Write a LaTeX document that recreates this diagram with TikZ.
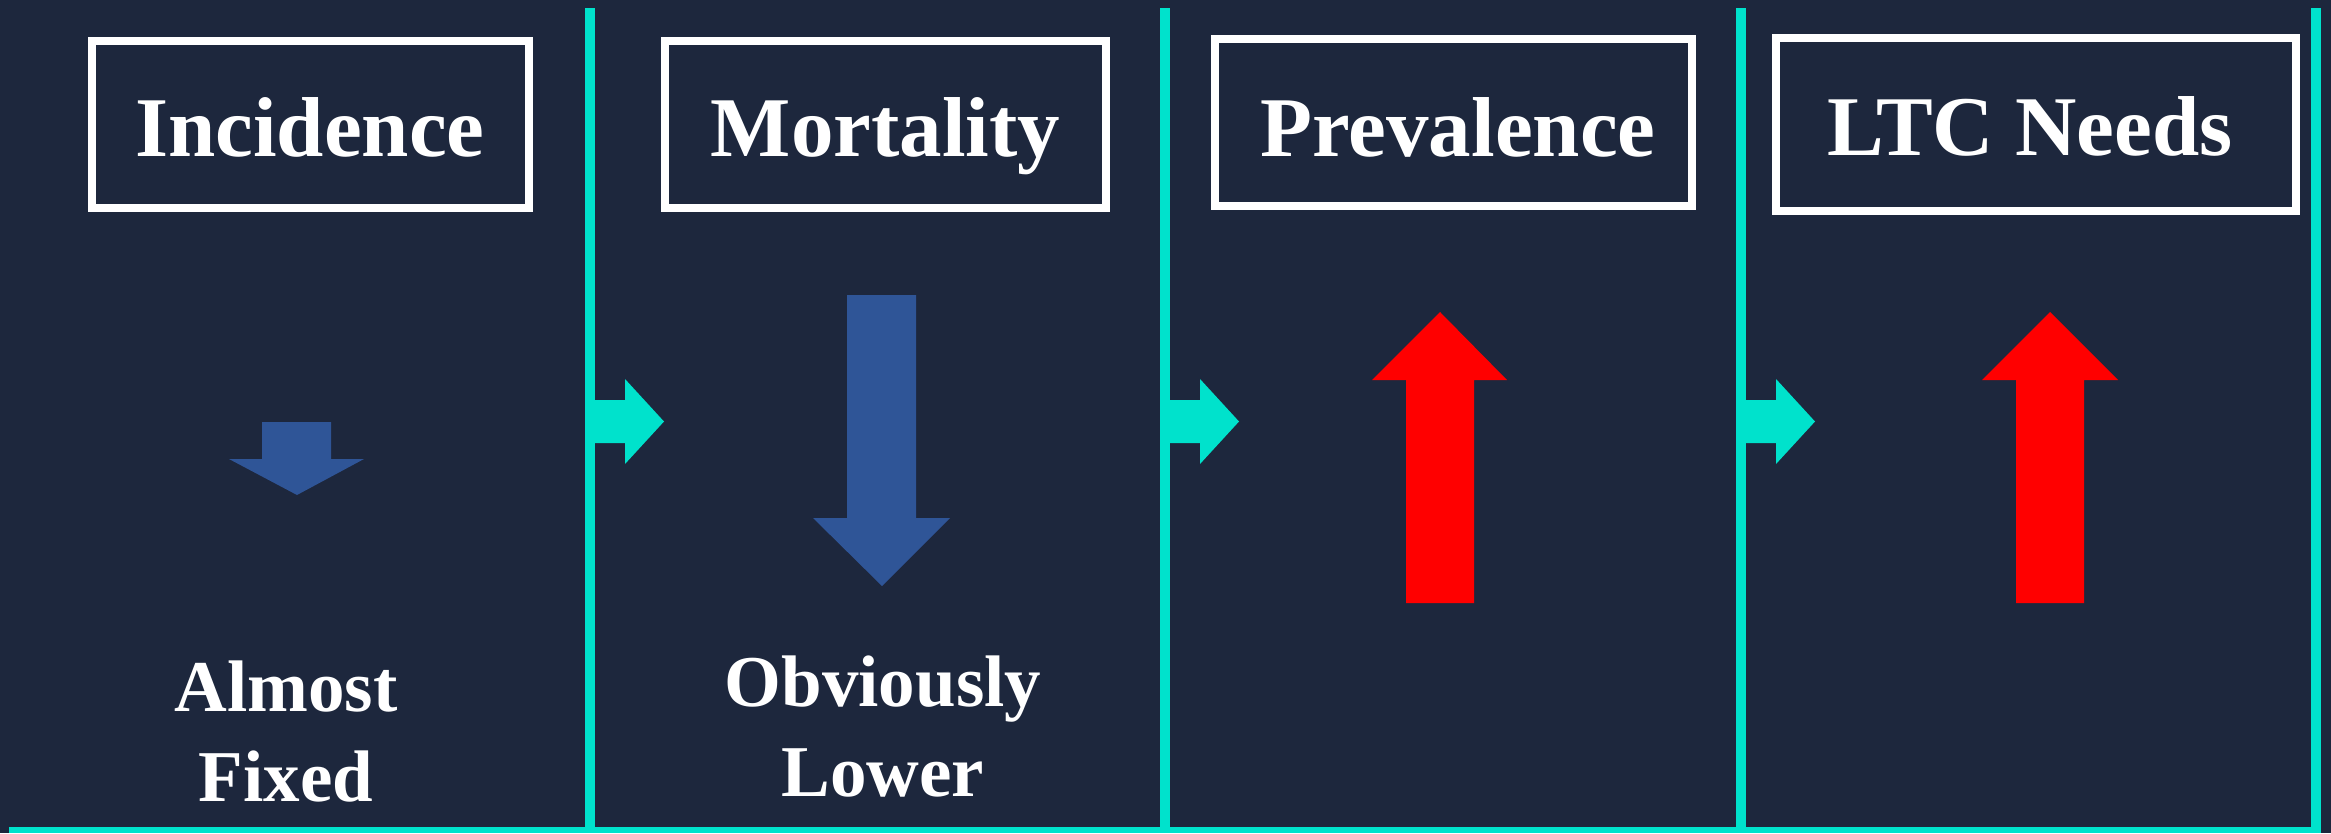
\documentclass[tikz,border=0pt]{standalone}
\usepackage{fontspec}
\setmainfont{Liberation Serif}
\definecolor{bgnavy}{RGB}{29,39,61}
\definecolor{lineteal}{RGB}{0,226,204}
\definecolor{downblue}{RGB}{47,85,151}
\definecolor{upred}{RGB}{255,0,0}
\begin{document}
\begin{tikzpicture}[x=1pt,y=-1pt,
  divider/.style={draw=lineteal,line width=10pt},
  baseline rule/.style={draw=lineteal,line width=6pt},
  titlebox/.style={draw=white,line width=8pt,fill=none,inner sep=0pt},
  titletext/.style={text=white,inner sep=0pt,anchor=base,
    font=\fontsize{85}{100}\selectfont\bfseries},
  notetext/.style={text=white,inner sep=0pt,anchor=south,text depth=0pt,
    align=center,font=\fontsize{73}{90}\selectfont\bfseries},
  flowarrow/.pic={\fill[lineteal] (0,-21.5) -- (35,-21.5) -- (35,-42.5)
    -- (74,0) -- (35,42.5) -- (35,21.5) -- (0,21.5) -- cycle;},
  fallarrow/.style={fill=downblue},
  risearrow/.style={fill=upred}]
\useasboundingbox (0,0) rectangle (2331,833);
\fill[bgnavy] (0,0) rectangle (2331,833);

% panel dividers and the base rule
\foreach \name/\xx in {d1/590,d2/1165,d3/1741,d4/2316}{
  \coordinate (\name top) at (\xx,8);
  \coordinate (\name bot) at (\xx,833);
  \draw[divider] (\name top) -- (\name bot);
}
\coordinate (ruleL) at (9,830);
\coordinate (ruleR) at (2321,830);
\draw[baseline rule] (ruleL) -- (ruleR);

% flow arrows between panels
\foreach \xx in {590,1165,1741}{
  \pic at (\xx,421.5) {flowarrow};
}

% title boxes
\node[titlebox,minimum width=437.5pt,minimum height=167pt] (box1) at (310.25,124.5) {};
\node[titlebox,minimum width=441pt,minimum height=167pt] (box2) at (885.5,124.5) {};
\node[titlebox,minimum width=477pt,minimum height=167pt] (box3) at (1453.5,122.5) {};
\node[titlebox,minimum width=520pt,minimum height=173pt] (box4) at (2036,124.5) {};

\node[titletext] (title1) at (310,156) {Incidence};
\node[titletext] (title2) at (885.5,156) {Mortality};
\node[titletext] (title3) at (1458,156) {Prevalence};
\node[titletext] (title4) at (2030,155) {LTC Needs};

% trend arrows
\fill[fallarrow] (262,422) -- (331,422) -- (331,459) -- (364,459) -- (297,495)
  -- (229,459) -- (262,459) -- cycle;
\fill[fallarrow] (847,295) -- (916,295) -- (916,518) -- (950,518) -- (882,586)
  -- (813,518) -- (847,518) -- cycle;
\fill[risearrow] (1406,603) -- (1474,603) -- (1474,380) -- (1507,380) -- (1440,312)
  -- (1372,380) -- (1406,380) -- cycle;
\fill[risearrow] (2016,603) -- (2084,603) -- (2084,380) -- (2118,380) -- (2050,312)
  -- (1982,380) -- (2016,380) -- cycle;

% notes under the panels
\node[notetext] (note1) at (286,802) {Almost\\Fixed};
\node[notetext] (note2) at (883,797) {Obviously\\Lower};
\end{tikzpicture}
\end{document}
